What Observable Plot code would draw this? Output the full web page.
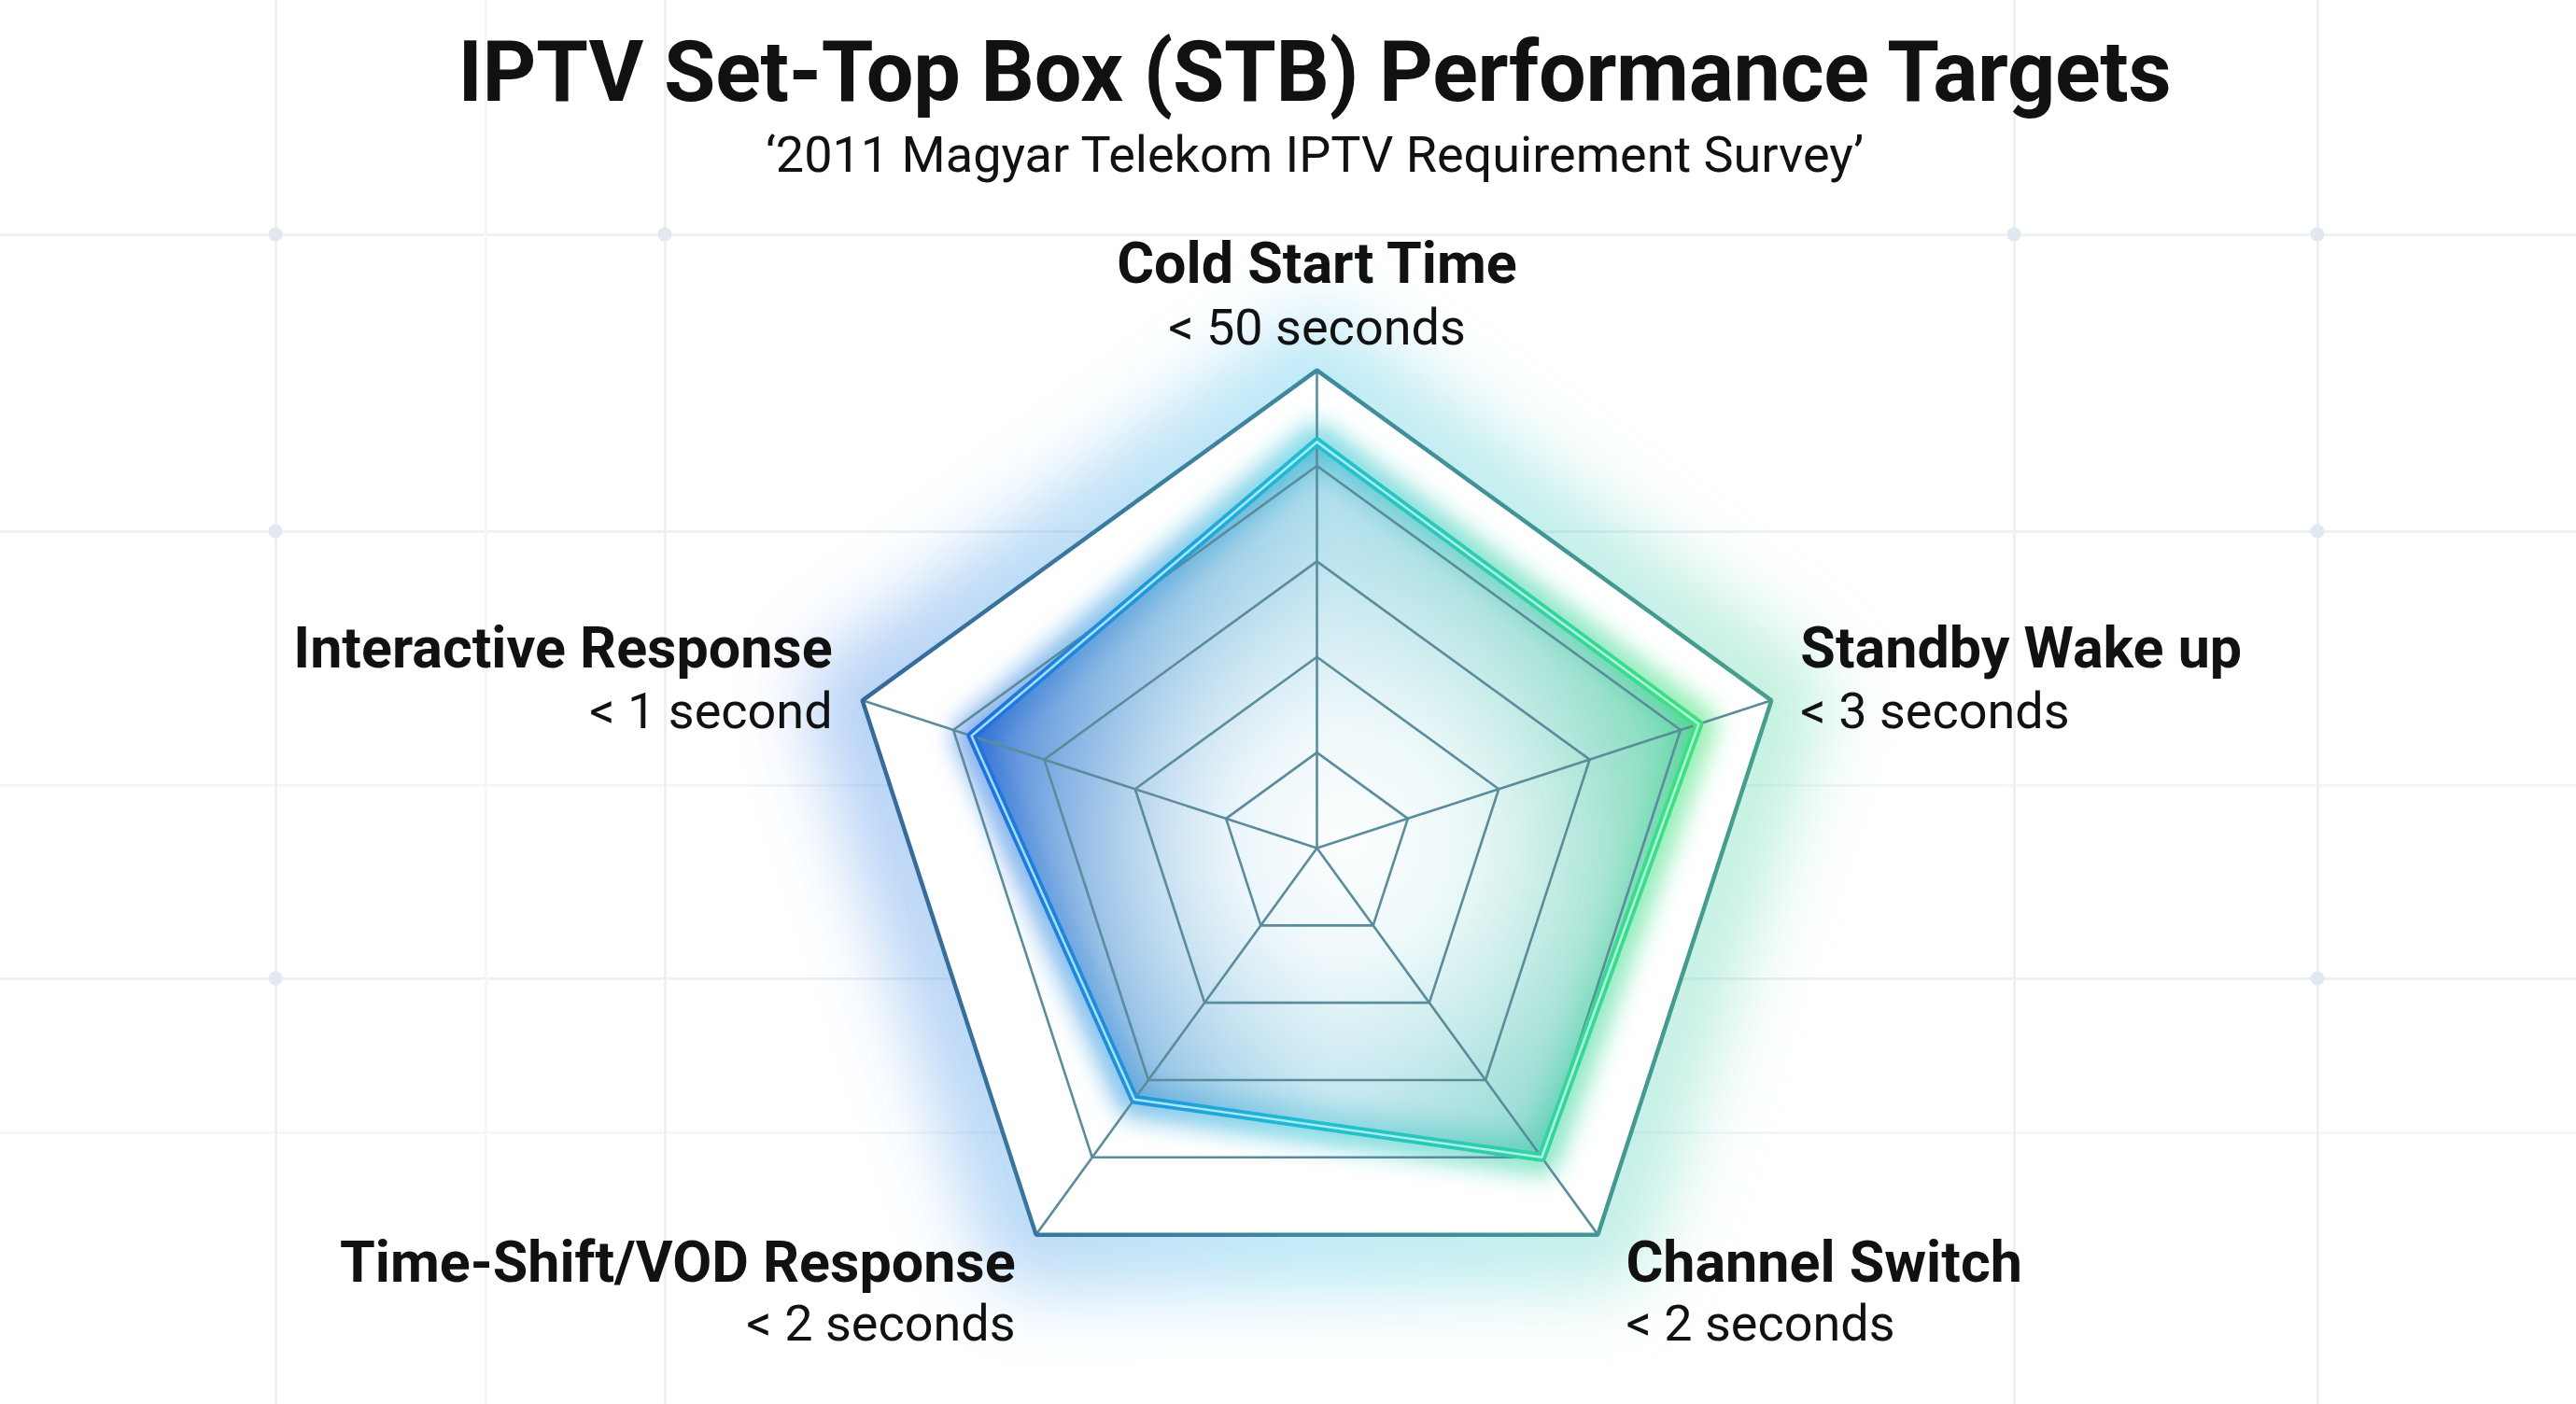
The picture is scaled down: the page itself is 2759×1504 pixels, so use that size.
<!DOCTYPE html>
<html>
<head>
<meta charset="utf-8">
<script src="https://cdn.jsdelivr.net/npm/d3@7"></script>
<script src="https://cdn.jsdelivr.net/npm/@observablehq/plot@0.6"></script>
<style>
  html, body { margin: 0; padding: 0; background: #ffffff; }
  body { width: 2759px; height: 1504px; position: relative; overflow: hidden; font-family: Roboto, "Noto Sans", sans-serif; }
  #bg { position: absolute; left: 0; top: 0; width: 2759px; height: 1504px; z-index: 0; }
  #header { position: relative; height: 215px; z-index: 1; }
  #header div { position: absolute; left: 1408px; transform: translateX(-50%); white-space: nowrap; color: #111; line-height: 1; }
  #title { top: 33px; font-size: 90px; font-weight: 700; letter-spacing: -0.3px; }
  #subtitle { top: 139px; font-size: 54px; font-weight: 400; }
  #chart { position: relative; z-index: 1; }
</style>
</head>
<body>
<div id="bg"></div>
<div id="header">
  <div id="title">IPTV Set-Top Box (STB) Performance Targets</div>
  <div id="subtitle">‘2011 Magyar Telekom IPTV Requirement Survey’</div>
</div>
<div id="chart"></div>
<script>
// ---------------- data ----------------
const axes = ["Cold Start Time", "Standby Wake up", "Channel Switch", "Time-Shift/VOD Response", "Interactive Response"];
const targets = ["< 50 seconds", "< 3 seconds", "< 2 seconds", "< 2 seconds", "< 1 second"];
const scores = [85, 84, 80, 65, 76];
const ringLevels = [20, 40, 60, 80, 100];

// ---------------- decorative background grid ----------------
(function () {
  const vx = [[295, "#edf1f5"], [520, "#f4f6f8"], [712, "#edf1f5"], [2157, "#edf1f5"], [2482, "#edf1f5"]];
  const hy = [[251, "#edf1f5"], [569, "#edf1f5"], [841, "#f4f6f8"], [1048, "#edf1f5"], [1213, "#f4f6f8"]];
  const dots = [[295, 251], [712, 251], [2157, 251], [2482, 251], [295, 569], [2482, 569], [295, 1048], [2482, 1048]];
  const layers = [];
  dots.forEach(([x, y]) => layers.push(`radial-gradient(circle at ${x}px ${y}px, #e1e8f0 0 7px, rgba(255,255,255,0) 8px)`));
  vx.forEach(([x, c]) => layers.push(`linear-gradient(to right, rgba(0,0,0,0) ${x - 1}px, ${c} ${x - 1}px, ${c} ${x + 2}px, rgba(0,0,0,0) ${x + 2}px)`));
  hy.forEach(([y, c]) => layers.push(`linear-gradient(to bottom, rgba(0,0,0,0) ${y - 1}px, ${c} ${y - 1}px, ${c} ${y + 2}px, rgba(0,0,0,0) ${y + 2}px)`));
  document.getElementById("bg").style.backgroundImage = layers.join(",");
})();

// ---------------- tables built from the arrays ----------------
const n = axes.length;
const lonOf = (i) => 180 - (i * 360) / n;      // clockwise from top
const latOf = (v) => 90 - v / 2;               // radial distance from centre
const axisRows = axes.map((a, i) => ({i, axis: a, target: targets[i], lon: lonOf(i)}));
const dataRows = axes.map((a, i) => ({axis: a, lon: lonOf(i), value: scores[i]}));
const ringRows = ringLevels.flatMap((r) => axes.map((a, i) => ({level: r, lon: lonOf(i)})));
const outer = d3.max(ringLevels);

const W = 2759, H = 1289;

function labelMarks(i, anchor, dx, dyName, dyValue) {
  const rows = axisRows.filter((d) => d.i === i);
  return [
    Plot.text(rows, {x: "lon", y: () => latOf(outer), text: "axis", textAnchor: anchor, lineAnchor: "bottom",
      dx, dy: dyName, fontSize: 61, fontWeight: 700, fill: "#111"}),
    Plot.text(rows, {x: "lon", y: () => latOf(outer), text: "target", textAnchor: anchor, lineAnchor: "bottom",
      dx, dy: dyValue, fontSize: 54, fontWeight: 400, fill: "#111"})
  ];
}

const chart = Plot.plot({
  width: W,
  height: H,
  marginTop: 130,
  marginBottom: 33,
  marginLeft: 61,
  marginRight: 0,
  style: {background: "transparent", fontFamily: "Roboto, 'Noto Sans', sans-serif", overflow: "visible"},
  projection: {
    type: "azimuthal-equidistant",
    rotate: [0, -90],
    domain: d3.geoCircle().center([0, 90]).radius(55)()
  },
  marks: [
    // 0 outer halo
    Plot.line(axisRows, {x: "lon", y: () => latOf(outer), curve: "linear-closed", stroke: "url(#glowStroke)", strokeWidth: 120, strokeOpacity: 0.4, strokeLinejoin: "round"}),
    // 1 white plate
    Plot.line(axisRows, {x: "lon", y: () => latOf(outer), curve: "linear-closed", fill: "#ffffff", stroke: "none"}),
    // 2 data glow
    Plot.line(dataRows, {x: "lon", y: (d) => latOf(d.value), curve: "linear-closed", stroke: "url(#dataStroke)", strokeWidth: 40, strokeOpacity: 0.55, strokeLinejoin: "round"}),
    // 3 data fill
    Plot.line(dataRows, {x: "lon", y: (d) => latOf(d.value), curve: "linear-closed", fill: "url(#dataFill)", stroke: "none"}),
    // 4 centre light
    Plot.line(dataRows, {x: "lon", y: (d) => latOf(d.value), curve: "linear-closed", fill: "url(#centerWhite)", stroke: "none"}),
    // 5 inner rings
    Plot.line(ringRows.filter((d) => d.level < outer), {x: "lon", y: (d) => latOf(d.level), z: "level", curve: "linear-closed", stroke: "#5a8c9c", strokeWidth: 2.6, strokeLinejoin: "miter"}),
    // spokes
    Plot.link(axisRows, {x1: "lon", y1: () => latOf(outer), x2: "lon", y2: 90, stroke: "#5a8c9c", strokeWidth: 2.6}),
    // 6 outer ring
    Plot.line(axisRows, {x: "lon", y: () => latOf(outer), curve: "linear-closed", stroke: "url(#outerStroke)", strokeWidth: 4.5, strokeLinejoin: "miter"}),
    // 7 data stroke
    Plot.line(dataRows, {x: "lon", y: (d) => latOf(d.value), curve: "linear-closed", stroke: "url(#dataStroke)", strokeWidth: 10, strokeLinejoin: "round"}),
    // 8 data highlight core
    Plot.line(dataRows, {x: "lon", y: (d) => latOf(d.value), curve: "linear-closed", stroke: "#d4fcff", strokeWidth: 2.6, strokeOpacity: 0.75, strokeLinejoin: "round"}),
    // labels
    ...labelMarks(0, "middle", 0, -94, -28),
    ...labelMarks(1, "start", 31, -35, 30),
    ...labelMarks(2, "start", 30, 50, 113),
    ...labelMarks(3, "end", -22, 50, 113),
    ...labelMarks(4, "end", -32, -35, 30)
  ]
});

document.getElementById("chart").appendChild(chart);

// ---------------- gradients & glow filters ----------------
const svg = d3.select(chart.tagName.toLowerCase() === "svg" ? chart : chart.querySelector("svg"));
const defs = svg.insert("defs", ":first-child");
function lin(id, stops) {
  const g = defs.append("linearGradient").attr("id", id).attr("x1", "0%").attr("y1", "0%").attr("x2", "100%").attr("y2", "0%");
  stops.forEach(([o, c, a]) => g.append("stop").attr("offset", o).attr("stop-color", c).attr("stop-opacity", a));
}
lin("glowStroke", [["0%", "#4a8ce8", 1], ["50%", "#5ccbea", 1], ["100%", "#6adcae", 1]]);
lin("outerStroke", [["0%", "#35699a", 1], ["50%", "#3f8aa0", 1], ["100%", "#46a08a", 1]]);
lin("dataStroke", [["0%", "#1d6fe0", 1], ["45%", "#1fbcd6", 1], ["100%", "#3fe27a", 1]]);
lin("dataFill", [["0%", "#2263cf", 0.85], ["50%", "#3fb0cf", 0.45], ["100%", "#34c98a", 0.75]]);
const rg = defs.append("radialGradient").attr("id", "centerWhite").attr("cx", "52%").attr("cy", "56%").attr("r", "54%");
[["0%", "#ffffff", 0.97], ["30%", "#ffffff", 0.82], ["70%", "#ffffff", 0.3], ["100%", "#ffffff", 0]].forEach(([o, c, a]) =>
  rg.append("stop").attr("offset", o).attr("stop-color", c).attr("stop-opacity", a));
function blur(id, sd) {
  defs.append("filter").attr("id", id).attr("x", "-50%").attr("y", "-50%").attr("width", "200%").attr("height", "200%")
    .append("feGaussianBlur").attr("stdDeviation", sd);
}
blur("blurBig", 38);
blur("blurMid", 12);
const lineGroups = svg.selectAll("g[aria-label='line']").nodes();
d3.select(lineGroups[0]).attr("filter", "url(#blurBig)");
d3.select(lineGroups[2]).attr("filter", "url(#blurMid)");
</script>
</body>
</html>
